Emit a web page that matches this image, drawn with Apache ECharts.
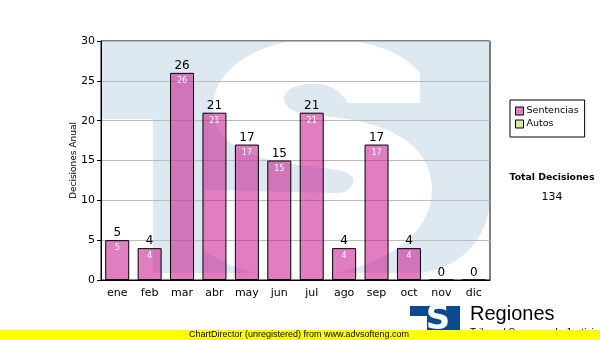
<!DOCTYPE html>
<html><head><meta charset="utf-8">
<script src="https://cdn.jsdelivr.net/npm/echarts@6/dist/echarts.min.js"></script>
<style>html,body{margin:0;padding:0;background:#fff}#c{width:600px;height:340px}</style>
</head><body><div id="c"></div>
<script>
const months = ['ene','feb','mar','abr','may','jun','jul','ago','sep','oct','nov','dic'];
const sentencias = [5,4,26,21,17,15,21,4,17,4,0,0];
const autos = [];
const yTicks = {min:0, max:30, interval:5};
const totalLabel = 'Total Decisiones';
const totalValue = 134;

// watermark outline helper: parses M/L/C/Z path into polygon points
function pathToPoints(d){
  const t = d.match(/[MLCZ]|-?\d+(\.\d+)?/g); const pts=[]; let i=0, cur=[0,0], cmd='';
  while(i<t.length){
    if(/[MLCZ]/.test(t[i])){cmd=t[i++]; if(cmd==='Z') continue;}
    if(cmd==='M'||cmd==='L'){cur=[+t[i],+t[i+1]]; i+=2; pts.push(cur);}
    else if(cmd==='C'){
      const p0=cur,p1=[+t[i],+t[i+1]],p2=[+t[i+2],+t[i+3]],p3=[+t[i+4],+t[i+5]]; i+=6;
      for(let k=1;k<=16;k++){const s=k/16,u=1-s;
        pts.push([u*u*u*p0[0]+3*u*u*s*p1[0]+3*u*s*s*p2[0]+s*s*s*p3[0],
                  u*u*u*p0[1]+3*u*u*s*p1[1]+3*u*s*s*p2[1]+s*s*s*p3[1]]);}
      cur=p3;
    } else i++;
  }
  return pts;
}
const sPath = 'M420,73 C402,52 372,39 318,39 C262,39 213,67 213,107 C213,142 245,158 300,165 L338,170 C350,172 355,178 353,183 C350,190 345,193 336,193 L205,190 L203,250 C230,268 260,277 290,277 C370,277 432,240 432,190 C432,148 395,125 340,118 L300,113 C287,110 281,101 285,94 C290,86 305,83 320,84 C335,86 343,95 348,103 L420,103 Z';
const bluePath = 'M101,41 L490,41 L490,198 C490,239 456,273 415,273 L153,273 L153,119 L101,119 Z';

const chart = echarts.init(document.getElementById('c'), null, {renderer:'canvas'});
const F = 'DejaVu Sans, Verdana, sans-serif';
const pink = 'rgba(200,25,140,0.56)';
const wmBlue = '#dee8f1';
chart.setOption({
  animation:false,
  grid:{left:101, right:110, top:41, bottom:60, show:true, borderColor:'#000', borderWidth:1, backgroundColor:'transparent'},
  legend:{
    data:[{name:'Sentencias', itemStyle:{color:'#e07fbf', borderColor:'#000', borderWidth:1}},
          {name:'Autos', itemStyle:{color:'#d9eaa6', borderColor:'#000', borderWidth:1}}],
    orient:'vertical', left:510, top:100,
    icon:'rect', itemWidth:8, itemHeight:8, itemGap:3,
    padding:[6,6,8,5],
    borderColor:'#000', borderWidth:1, backgroundColor:'#fff',
    textStyle:{fontFamily:F, fontSize:9.5, color:'#000', padding:[0,0,0,-2]},
    selectedMode:false
  },
  xAxis:{type:'category', data:months,
    axisLine:{lineStyle:{color:'#000'}},
    axisTick:{alignWithLabel:true, length:4, lineStyle:{color:'#000'}},
    axisLabel:{fontFamily:F, fontSize:11, color:'#000', margin:8}},
  yAxis:{type:'value', min:yTicks.min, max:yTicks.max, interval:yTicks.interval,
    name:'Decisiones Anual', nameLocation:'middle', nameGap:23, nameRotate:90, nameMoveOverlap:false,
    nameTextStyle:{fontFamily:F, fontSize:9, color:'#000'},
    axisLine:{show:true, lineStyle:{color:'#000'}},
    axisTick:{show:true, length:4, lineStyle:{color:'#000'}},
    axisLabel:{fontFamily:F, fontSize:11, color:'#000', margin:6},
    splitLine:{lineStyle:{color:'#bbbbbb'}}},
  series:[
    {name:'Sentencias', type:'bar', data:sentencias, barWidth:24, barGap:'-100%', z:3,
     itemStyle:{color:pink, borderColor:'#000', borderWidth:1},
     label:{show:true, position:'top', distance:1, fontFamily:F, fontSize:12, color:'#000'}},
    {name:'Autos', type:'bar', data:autos, barWidth:24, barGap:'-100%',
     itemStyle:{color:'#d9eaa6', borderColor:'#000', borderWidth:1}},
    {name:'inner', type:'bar', data:sentencias, barWidth:24, barGap:'-100%', z:4,
     itemStyle:{color:'transparent', borderWidth:0}, silent:true,
     label:{show:true, position:'insideTop', distance:4, fontFamily:F, fontSize:8, color:'#fff',
       formatter:p=>p.value>0?String(p.value):''}}
  ],
  graphic:[
    {type:'polygon', z:-20, silent:true, shape:{points:pathToPoints(bluePath)}, style:{fill:wmBlue}},
    {type:'polygon', z:-18, silent:true, shape:{points:pathToPoints(sPath)}, style:{fill:'#fff'}},
    {type:'text', x:552, y:173, style:{text:totalLabel, font:'bold 9.3px '+F, fill:'#000', align:'center'}},
    {type:'text', x:552, y:192, style:{text:String(totalValue), font:'11px '+F, fill:'#000', align:'center'}},
    {type:'polygon', z:50, shape:{points:[[410,306],[460,306],[460,334],[427,334],[427,316],[410,316]]}, style:{fill:'#0b4a8c'}},
    {type:'text', z:51, x:438, y:320, style:{text:'S', font:'bold 34px "DejaVu Sans"', fill:'#fff', align:'center', verticalAlign:'middle'}},
    {type:'text', z:50, x:470, y:304, style:{text:'Regiones', font:'20px "Liberation Sans", Arial', fill:'#000'}},
    {type:'text', z:50, x:470, y:328, style:{text:'Tribunal Supremo de Justicia', font:'10px "Liberation Sans", Arial', fill:'#000'}},
    {type:'rect', z:60, shape:{x:0,y:330,width:600,height:10}, style:{fill:'#ffff00'}},
    {type:'text', z:61, x:299, y:335, style:{text:'ChartDirector (unregistered) from www.advsofteng.com', font:'9px "Liberation Sans", Arial', fill:'#000', align:'center', verticalAlign:'middle'}}
  ]
});
</script></body></html>
